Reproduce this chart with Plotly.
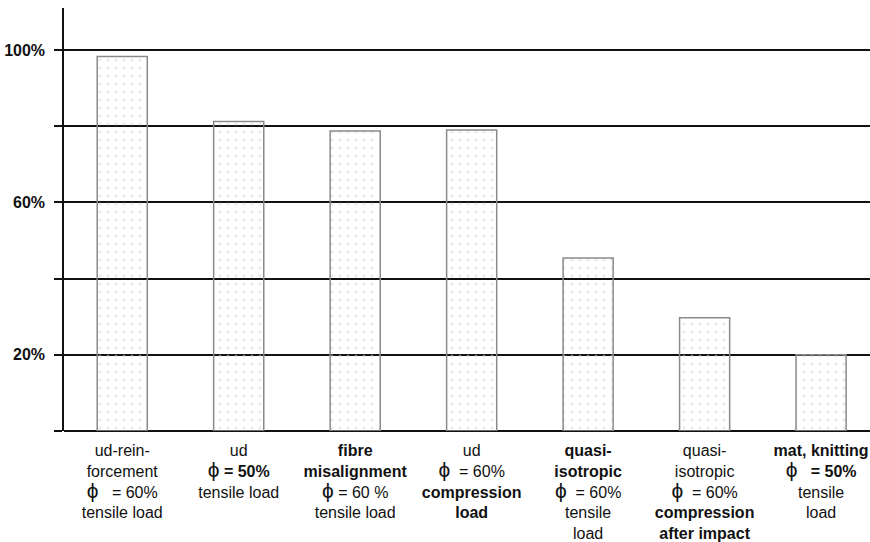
import plotly.graph_objects as go

PHI = '<span style="font-size:21px">ϕ</span>'

categories = [
    "ud-rein-<br>forcement<br>" + PHI + "   = 60%<br>tensile load",
    "ud<br>" + PHI + " <b>= 50%</b><br>tensile load",
    "<b>fibre<br>misalignment</b><br>" + PHI + " = 60 %<br>tensile load",
    "ud<br>" + PHI + "  = 60%<br><b>compression<br>load</b>",
    "<b>quasi-<br>isotropic</b><br>" + PHI + "  = 60%<br>tensile<br>load",
    "quasi-<br>isotropic<br>" + PHI + "  = 60%<br><b>compression<br>after impact</b>",
    "<b>mat, knitting</b><br>" + PHI + "   <b>= 50%</b><br>tensile<br>load",
]
values = [98.3, 81.2, 78.7, 79.0, 45.4, 29.7, 20.0]

y_tickvals = [0, 20, 40, 60, 80, 100]
y_ticktext = ["", "20%", "", "60%", "", "100%"]

fig = go.Figure(
    go.Bar(
        x=categories,
        y=values,
        width=0.43,
        marker=dict(
            color="rgba(0,0,0,0)",
            line=dict(color="#8a8a8a", width=1.5),
            pattern=dict(shape=".", fgcolor="#d4d4d4", bgcolor="rgba(0,0,0,0)",
                         size=8, solidity=0.1, fillmode="overlay"),
        ),
        hoverinfo="skip",
    )
)

fig.update_layout(
    width=870,
    height=542,
    margin=dict(l=64, r=0, t=8, b=111, autoexpand=False),
    paper_bgcolor="white",
    plot_bgcolor="white",
    showlegend=False,
    font=dict(family="Liberation Sans, Arial, sans-serif", color="#111"),
    bargap=0.5,
)

fig.update_xaxes(
    type="category",
    range=[-0.5, 6.42],
    showgrid=False,
    showline=False,
    zeroline=False,
    ticks="",
    tickangle=0,
    automargin=False,
    ticklabelstandoff=8,
    tickfont=dict(size=16, color="#111"),
)

fig.update_yaxes(
    range=[0, 111],
    tickvals=y_tickvals,
    ticktext=y_ticktext,
    showgrid=True,
    gridcolor="#111",
    gridwidth=1.5,
    zeroline=True,
    zerolinecolor="#111",
    zerolinewidth=2,
    showline=True,
    linecolor="#111",
    linewidth=1.5,
    ticks="outside",
    ticklen=8,
    tickwidth=1.5,
    tickcolor="#111",
    ticklabelstandoff=6,
    automargin=False,
    tickfont=dict(size=16, color="#111", weight="bold"),
)

fig.write_html("out.html", config={"displayModeBar": False},
               post_script="document.body.style.margin='0';")
